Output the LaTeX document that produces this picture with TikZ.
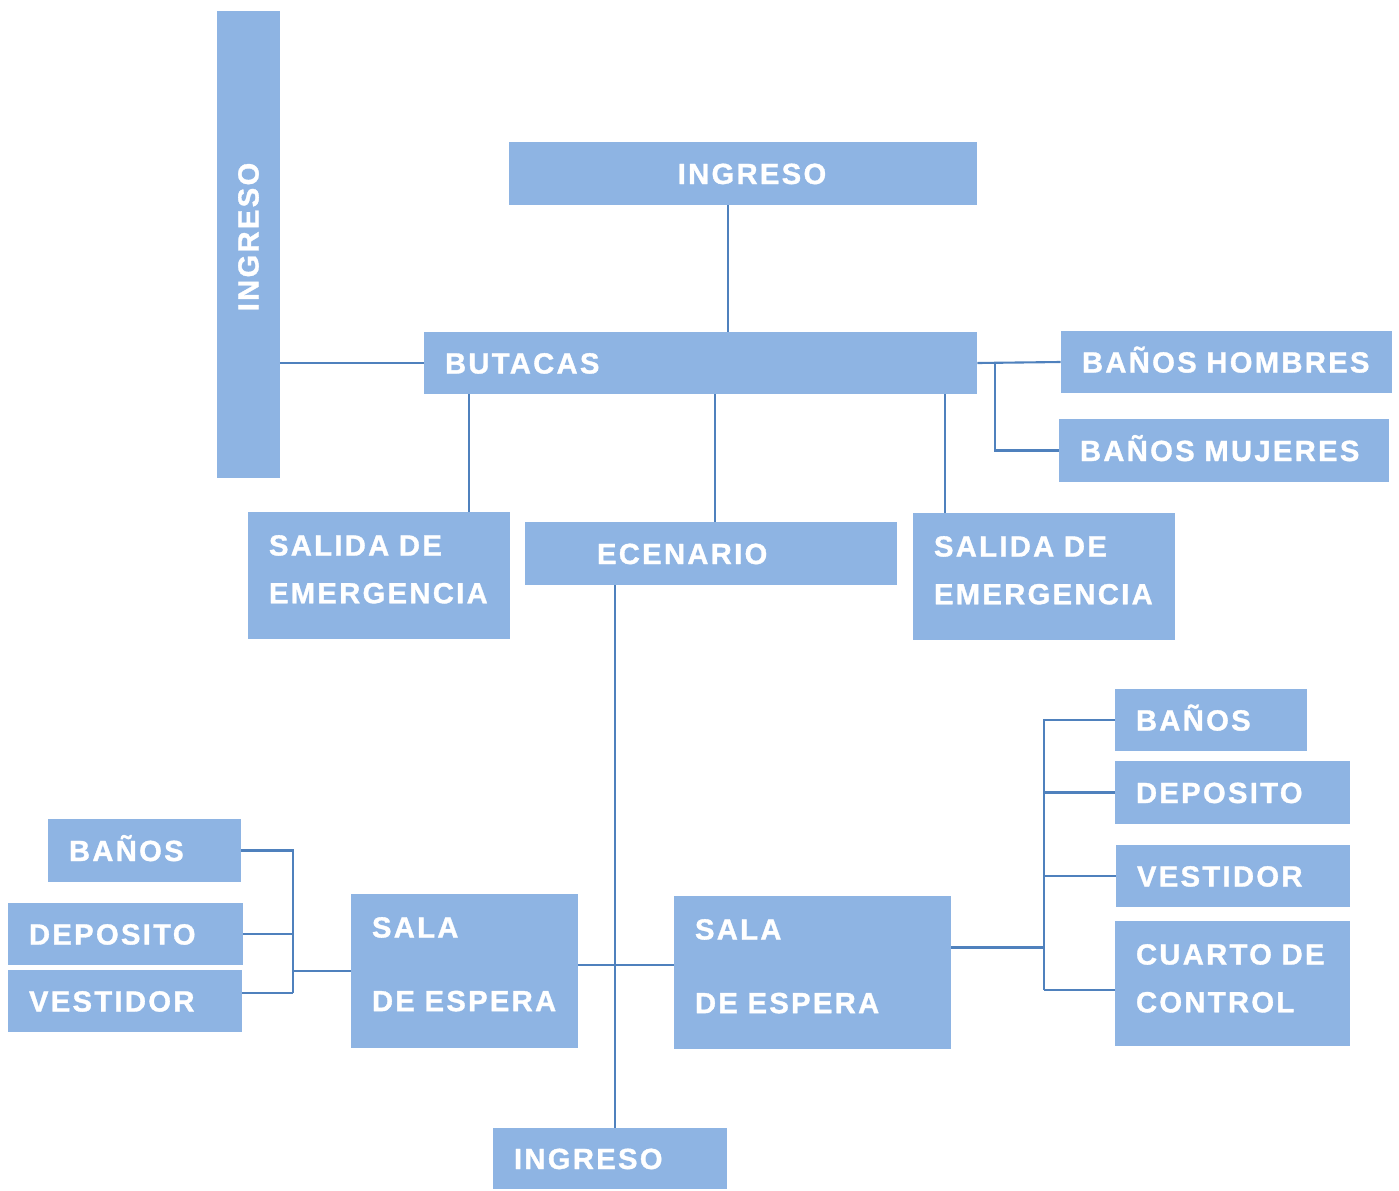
\documentclass[tikz,border=0pt]{standalone}
\usepackage{fontspec}
\usepackage{graphicx}
\usepackage{xcolor}
\newfontfamily\boxfont{Liberation Sans}[BoldFont={Liberation Sans Bold}, BoldFeatures={FakeBold=1.2}, LetterSpace=8]
\definecolor{boxblue}{HTML}{8EB4E3}
\definecolor{linkblue}{HTML}{4F81BD}

\begin{document}
\begin{tikzpicture}[
    x=0.02cm, y=-0.02cm,
    box/.style={rectangle, fill=boxblue, text=white, inner xsep=0.42cm, inner ysep=0pt, align=left,
        text height=0.42cm, font=\boxfont\bfseries\fontsize{16.6}{27.2}\selectfont},
    onebox/.style={box, text depth=0pt},
    link/.style={draw=linkblue, line width=1.2pt}
]
\useasboundingbox (0,0) rectangle (1399,1190);

% Side entrance
\node[box, text height=, inner xsep=0pt, minimum width=1.26cm, minimum height=9.34cm, text depth=0.3cm] (ingL) at (248.5,244.5) {\rotatebox{90}{INGRESO}};

% Main entrance
\node[onebox, inner xsep=0pt, align=center, minimum width=9.36cm, minimum height=1.26cm] (ingT) at (743,173.5) {\hspace*{0.36cm}INGRESO};

% Seats
\node[onebox, text width=10.22cm, minimum height=1.24cm] (butacas) at (700.5,363) {BUTACAS};

% Public toilets
\node[onebox, text width=5.78cm, minimum height=1.24cm] (banH) at (1226.5,362) {BAÑOS HOMBRES};
\node[onebox, text width=5.76cm, minimum height=1.26cm] (banM) at (1224,450.5) {BAÑOS MUJERES};

% Emergency exits and stage
\node[box, text width=4.40cm, minimum height=2.54cm, text depth=1.22cm] (salL) at (379,575.5) {SALIDA DE\\EMERGENCIA};
\node[onebox, inner xsep=1.44cm, text width=4.56cm, minimum height=1.26cm] (ecenario) at (711,553.5) {ECENARIO};
\node[box, text width=4.40cm, minimum height=2.54cm, text depth=1.22cm] (salR) at (1044,576.5) {SALIDA DE\\EMERGENCIA};

% Right backstage
\node[onebox, text width=3.00cm, minimum height=1.24cm] (banR) at (1211,720) {BAÑOS};
\node[onebox, text width=3.86cm, minimum height=1.26cm] (depR) at (1232.5,792.5) {DEPOSITO};
\node[onebox, text width=3.84cm, minimum height=1.24cm] (vesR) at (1233,876) {VESTIDOR};
\node[box, text width=3.86cm, minimum height=2.50cm, text depth=1.18cm] (cuarto) at (1232.5,983.5) {CUARTO DE\\CONTROL};
\node[box, text width=4.70cm, minimum height=3.06cm, text depth=1.74cm] (salaR) at (812.5,972.5) {SALA\\[14.7pt]DE ESPERA};

% Left backstage
\node[box, text width=3.70cm, minimum height=3.08cm, text depth=1.76cm] (salaL) at (464.5,971) {SALA\\[14.7pt]DE ESPERA};
\node[onebox, text width=3.02cm, minimum height=1.26cm] (banL) at (144.5,850.5) {BAÑOS};
\node[onebox, text width=3.86cm, minimum height=1.24cm] (depL) at (125.5,934) {DEPOSITO};
\node[onebox, text width=3.84cm, minimum height=1.24cm] (vesL) at (125,1001) {VESTIDOR};

% Back entrance
\node[onebox, text width=3.84cm, minimum height=1.22cm] (ingB) at (610,1158.5) {INGRESO};

% Junctions
\coordinate (lj) at (293,970);
\coordinate (rj) at (1044,947);

% Links
\draw[link] ([xshift=-0.3cm]ingT.south) -- ([xshift=-0.3cm]ingT.south |- butacas.north);
\draw[link] (butacas.west -| ingL.east) -- (butacas.west);
\draw[link] ([xshift=1.8cm]salL.north) -- ([xshift=1.8cm]salL.north |- butacas.south);
\draw[link] ([xshift=0.08cm]ecenario.north) -- ([xshift=0.08cm]ecenario.north |- butacas.south);
\draw[link] ([xshift=-1.98cm]salR.north) -- ([xshift=-1.98cm]salR.north |- butacas.south);
\draw[link] (butacas.east) -- (banH.west);
\draw[link] ([xshift=0.36cm]butacas.east) |- (banM.west);
\draw[link] ([xshift=0.1cm]ingB.north) -- ([xshift=0.1cm]ingB.north |- ecenario.south);
\draw[link] ([yshift=0.12cm]salaL.east) -- ([yshift=0.12cm]salaL.east -| salaR.west);

% Left bracket
\draw[link] (banL.east) -- (banL.east -| lj) -- ([yshift=0.16cm]vesL.east -| lj);
\draw[link] (depL.east) -- (depL.east -| lj);
\draw[link] ([yshift=0.16cm]vesL.east) -- ([yshift=0.16cm]vesL.east -| lj);
\draw[link] (salaL.west) -- (salaL.west -| lj);

% Right bracket
\draw[link] (banR.west) -- (banR.west -| rj) -- ([yshift=-0.13cm]cuarto.west -| rj);
\draw[link] (depR.west) -- (depR.west -| rj);
\draw[link] (vesR.west) -- (vesR.west -| rj);
\draw[link] ([yshift=-0.13cm]cuarto.west) -- ([yshift=-0.13cm]cuarto.west -| rj);
\draw[link] ([yshift=0.5cm]salaR.east) -- ([yshift=0.5cm]salaR.east -| rj);

\end{tikzpicture}
\end{document}
